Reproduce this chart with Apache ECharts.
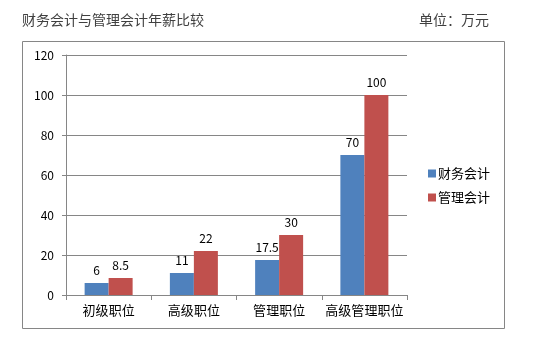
<!DOCTYPE html>
<html>
<head>
<meta charset="utf-8">
<script src="https://cdn.jsdelivr.net/npm/echarts@6/dist/echarts.min.js"></script>
<style>html,body{margin:0;padding:0;background:#fff}#c{width:543px;height:348px}</style>
</head>
<body>
<div id="c"></div>
<script>
var categories = ['初级职位', '高级职位', '管理职位', '高级管理职位'];
var financeValues = [6, 11, 17.5, 70];
var managementValues = [8.5, 22, 30, 100];
var seriesNames = ['财务会计', '管理会计'];
var titleText = '财务会计与管理会计年薪比较';
var unitText = '单位：万元';

var FONT = '"Noto Sans CJK SC", "Microsoft YaHei", sans-serif';
var chart = echarts.init(document.getElementById('c'));
chart.setOption({
  animation: false,
  textStyle: { fontFamily: FONT },
  graphic: [
    { type: 'rect', shape: { x: 22.5, y: 41.5, width: 482, height: 287 }, style: { fill: 'none', stroke: '#868686', lineWidth: 1 } },
    { type: 'text', left: 22, top: 13, style: { text: titleText, fill: '#404040', font: '14px ' + FONT } },
    { type: 'text', left: 419, top: 13, style: { text: unitText, fill: '#404040', font: '14px ' + FONT } }
  ],
  legend: {
    orient: 'vertical', left: 423, top: 162,
    itemWidth: 8, itemHeight: 8, itemGap: 11,
    icon: 'rect',
    textStyle: { fontSize: 13, color: '#000', fontFamily: FONT, padding: [0, 0, 0, -3] },
    data: seriesNames
  },
  grid: { left: 66, right: 136, top: 55, bottom: 53 },
  xAxis: {
    type: 'category', data: categories,
    axisLine: { lineStyle: { color: '#868686' } },
    axisTick: { show: true, length: 5, lineStyle: { color: '#868686' } },
    axisLabel: { color: '#000', fontSize: 13, margin: 9, interval: 0, fontFamily: FONT }
  },
  yAxis: {
    type: 'value', min: 0, max: 120, interval: 20,
    axisLine: { show: true, lineStyle: { color: '#868686' } },
    axisTick: { show: true, length: 4, lineStyle: { color: '#868686' } },
    axisLabel: { color: '#000', fontSize: 12, margin: 12, fontFamily: FONT },
    splitLine: { lineStyle: { color: '#868686' } }
  },
  series: [
    { name: seriesNames[0], type: 'bar', data: financeValues, barWidth: 24, barGap: '0%',
      itemStyle: { color: '#4F81BD' },
      label: { show: true, position: 'top', color: '#000', fontSize: 12, distance: 7 } },
    { name: seriesNames[1], type: 'bar', data: managementValues, barWidth: 24,
      itemStyle: { color: '#C0504D' },
      label: { show: true, position: 'top', color: '#000', fontSize: 12, distance: 7 } }
  ]
});
</script>
</body>
</html>
